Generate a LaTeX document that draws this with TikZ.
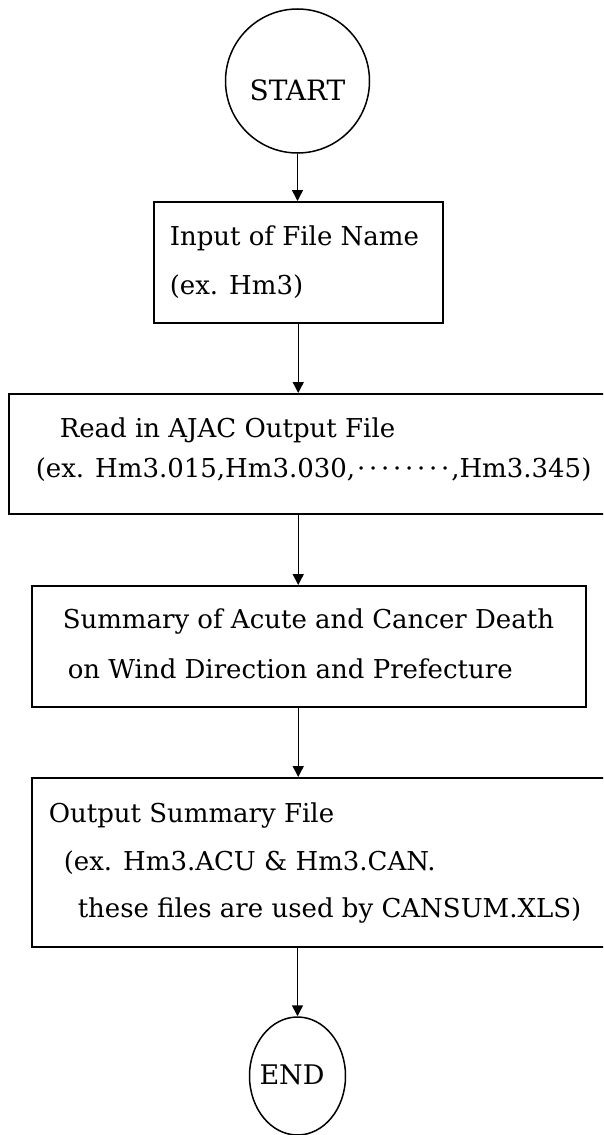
\documentclass[tikz,border=0pt]{standalone}
\usepackage{fontspec}
\setmainfont{DejaVu Serif}
\usetikzlibrary{arrows.meta,shapes.geometric}
\newcommand{\mydot}{\makebox[12pt]{\char"00B7}}
\begin{document}
\begin{tikzpicture}[x=1pt,y=-1pt,line width=1.5pt,
  flowbox/.style={draw,rectangle,inner sep=0pt,anchor=north west},
  term/.style={draw,ellipse,inner sep=0pt},
  txt/.style={anchor=base west,inner sep=0pt,font=\fontsize{26}{30}\selectfont},
  arr/.style={-{Triangle[length=11pt,width=11pt]}}]
\useasboundingbox (0,0) rectangle (603,1135);
\clip (0,0) rectangle (603,1135);
% terminals
\node[term,minimum width=144pt,minimum height=144pt] (start) at (297.5,81) {};
\node[anchor=base,inner sep=0pt,font=\fontsize{28}{32}\selectfont] (starttxt) at (297.5,100) {START};
\node[term,minimum width=96pt,minimum height=118pt] (end) at (297.5,1076) {};
\node[anchor=base,inner sep=0pt,font=\fontsize{27}{30}\selectfont] (endtxt) at (292,1084) {END};
% boxes
\node[flowbox,minimum width=289pt,minimum height=121pt] (b1) at (153,201) {};
\node[flowbox,minimum width=640pt,minimum height=120pt] (b2) at (8,393) {};
\node[flowbox,minimum width=554pt,minimum height=121pt] (b3) at (31,585) {};
\node[flowbox,minimum width=640pt,minimum height=169pt] (b4) at (31,777) {};
% texts
\node[txt] (t11) at (169,245) {Input of File Name};
\node[txt] (t12) at (169,294) {(ex. Hm3)};
\node[txt] (t21) at (59,437) {Read in AJAC Output File};
\node[txt] (t22) at (35,477) {(ex. Hm3.015,Hm3.030,\mydot\mydot\mydot\mydot\mydot\mydot\mydot\mydot,Hm3.345)};
\node[txt] (t31) at (62,628) {Summary of Acute and Cancer Death};
\node[txt] (t32) at (67,678) {on Wind Direction and Prefecture};
\node[txt] (t41) at (48,822) {Output Summary File};
\node[txt] (t42) at (63,870) {(ex. Hm3.ACU \& Hm3.CAN.};
\node[txt] (t43) at (77,917) {these files are used by CANSUM.XLS)};
% connectors
\draw[arr] (start.south) -- (start.south |- b1.north);
\draw[arr] (b1.south) -- (b1.south |- b2.north);
\draw[arr] (b1.south |- b2.south) -- (b1.south |- b3.north);
\draw[arr] (b1.south |- b3.south) -- (b1.south |- b4.north);
\draw[arr] (end.north |- b4.south) -- (end.north);
\end{tikzpicture}
\end{document}
